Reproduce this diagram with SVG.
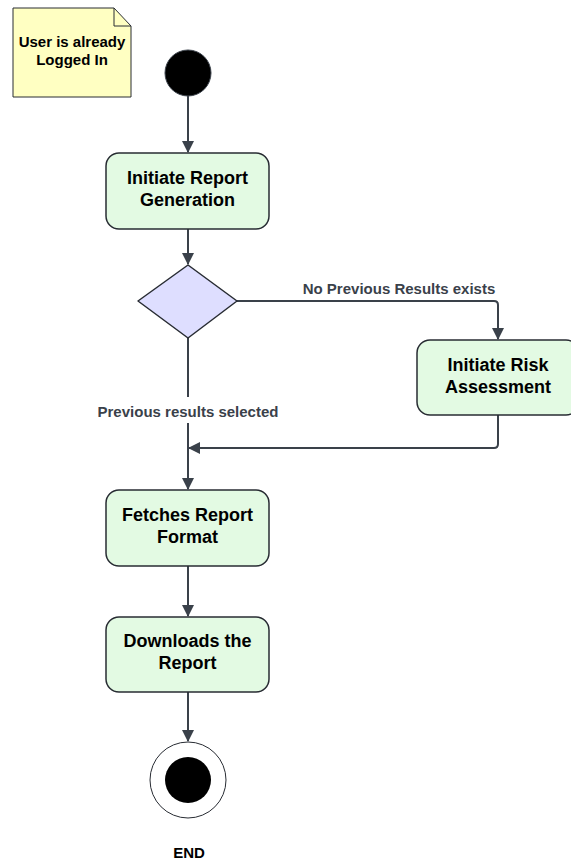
<svg xmlns="http://www.w3.org/2000/svg" width="571" height="864" viewBox="0 0 571 864">
<defs>
<style>
.box{fill:#e3fae3;stroke:#282c33;stroke-width:1.5}
.t{font-family:"Liberation Sans",Arial,sans-serif;font-weight:bold;font-size:18px;fill:#000;text-anchor:middle}
.nt{font-family:"Liberation Sans",Arial,sans-serif;font-weight:bold;font-size:15px;fill:#000;text-anchor:middle}
.lbl{font-family:"Liberation Sans",Arial,sans-serif;font-weight:bold;font-size:15px;fill:#3a414a;text-anchor:middle}
.c{fill:none;stroke:#3a414a;stroke-width:2}
</style>
<marker id="ah" viewBox="0 0 12 12" refX="11" refY="6" markerWidth="12" markerHeight="12" markerUnits="userSpaceOnUse" orient="auto">
<path d="M0,0 L12,6 L0,12 Z" fill="#3a414a"/>
</marker>
</defs>
<rect width="571" height="864" fill="#fff"/>
<g id="connectors">
<path class="c" d="M188,96 V152" marker-end="url(#ah)"/>
<path class="c" d="M188,229 V264" marker-end="url(#ah)"/>
<path class="c" d="M237,301 H494 Q498,301 498,305 V339" marker-end="url(#ah)"/>
<path class="c" d="M498,415 V444 Q498,448 494,448 H189" marker-end="url(#ah)"/>
<path class="c" d="M188,338 V489" marker-end="url(#ah)"/>
<path class="c" d="M188,566 V616" marker-end="url(#ah)"/>
<path class="c" d="M188,692 V741" marker-end="url(#ah)"/>
<rect x="92" y="397" width="192" height="26" fill="#fff"/>
<text class="lbl" x="399" y="294">No Previous Results exists</text>
<text class="lbl" x="188" y="417">Previous results selected</text>
</g>
<g id="note">
<path d="M13,8 H114 L131,26 V97 H13 Z" fill="#ffffc2" stroke="#282c33" stroke-width="1"/>
<path d="M114,8 V26 H131" fill="none" stroke="#282c33" stroke-width="1"/>
<text class="nt" x="72" y="47">User is already</text>
<text class="nt" x="72" y="65">Logged In</text>
</g>
<g id="start">
<circle cx="188" cy="73" r="23" fill="#000" stroke="#3a414a" stroke-width="1"/>
</g>
<g id="initiate-report">
<rect class="box" x="106" y="153" width="163" height="76" rx="13"/>
<text class="t" x="187.5" y="184">Initiate Report</text>
<text class="t" x="187.5" y="206">Generation</text>
</g>
<g id="decision">
<path d="M188,265 L237,301 L188,338 L138,301 Z" fill="#dedeff" stroke="#282c33" stroke-width="1.5" stroke-linejoin="round"/>
</g>
<g id="initiate-risk">
<rect class="box" x="417" y="340" width="162" height="75" rx="13"/>
<text class="t" x="498" y="371">Initiate Risk</text>
<text class="t" x="498" y="393">Assessment</text>
</g>
<g id="fetches">
<rect class="box" x="106" y="490" width="163" height="76" rx="13"/>
<text class="t" x="187.5" y="521">Fetches Report</text>
<text class="t" x="187.5" y="543">Format</text>
</g>
<g id="downloads">
<rect class="box" x="106" y="617" width="163" height="75" rx="13"/>
<text class="t" x="187.5" y="647">Downloads the</text>
<text class="t" x="187.5" y="669">Report</text>
</g>
<g id="end">
<circle cx="188" cy="780" r="38" fill="#fff" stroke="#282c33" stroke-width="1"/>
<circle cx="188" cy="780" r="23" fill="#000"/>
<text class="nt" x="189" y="858" font-size="14">END</text>
</g>
</svg>
